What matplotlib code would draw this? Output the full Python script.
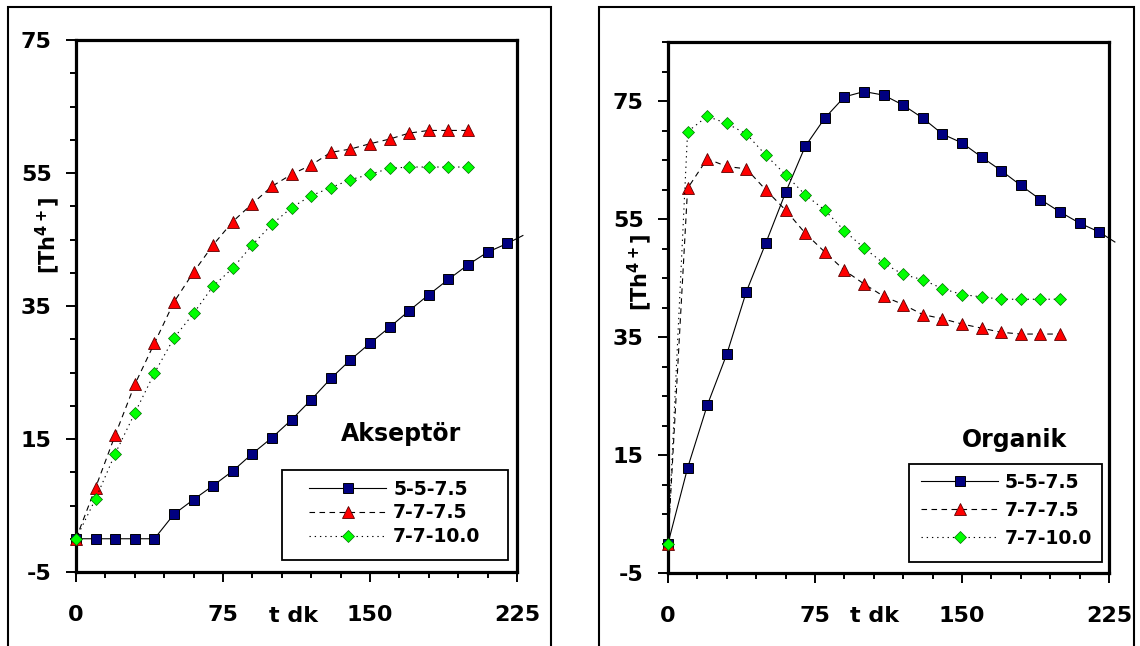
import matplotlib
matplotlib.use("Agg")
import matplotlib.pyplot as plt
from matplotlib.patches import Rectangle
from matplotlib.ticker import MultipleLocator, FixedLocator
from matplotlib.transforms import blended_transform_factory

plt.rcParams['font.family'] = ['DejaVu Sans']
plt.rcParams['font.weight'] = 'bold'
plt.rcParams['axes.unicode_minus'] = False

# ---------------- data ----------------
series_labels = ["5-5-7.5", "7-7-7.5", "7-7-10.0"]

t_blue = [0, 10, 20, 30, 40, 50, 60, 70, 80, 90, 100, 110, 120, 130, 140,
          150, 160, 170, 180, 190, 200, 210, 220, 228]
t_other = [0, 10, 20, 30, 40, 50, 60, 70, 80, 90, 100, 110, 120, 130, 140,
           150, 160, 170, 180, 190, 200]

akseptor_blue = [0, 0, 0, 0, 0, 3.7, 5.9, 8.0, 10.2, 12.8, 15.2, 17.9, 20.9, 24.1,
                 26.9, 29.4, 31.8, 34.3, 36.7, 39.0, 41.2, 43.1, 44.4, 45.6]
akseptor_red = [0, 7.7, 15.6, 23.2, 29.4, 35.6, 40.1, 44.2, 47.7, 50.4, 53.0,
                54.8, 56.2, 58.1, 58.6, 59.4, 60.1, 61.0, 61.4, 61.4, 61.4]
akseptor_green = [0, 6.0, 12.8, 18.9, 24.9, 30.2, 33.9, 38.0, 40.7, 44.2, 47.3,
                  49.8, 51.6, 52.8, 54.0, 54.8, 55.7, 55.9, 55.9, 55.9, 55.9]

organik_blue = [0, 12.8, 23.4, 32.1, 42.7, 51.0, 59.5, 67.3, 72.1, 75.7, 76.6,
                76.0, 74.3, 72.1, 69.4, 67.9, 65.5, 63.2, 60.7, 58.3, 56.2,
                54.3, 52.8, 51.1]
organik_red = [0, 60.2, 65.2, 63.9, 63.5, 59.9, 56.5, 52.6, 49.4, 46.3, 44.0,
               41.9, 40.5, 38.8, 38.1, 37.2, 36.5, 35.8, 35.5, 35.5, 35.5]
organik_green = [0, 69.8, 72.4, 71.2, 69.4, 65.8, 62.5, 59.1, 56.5, 53.0, 50.1,
                 47.5, 45.6, 44.7, 43.2, 42.2, 41.8, 41.4, 41.4, 41.4, 41.4]

x_major = [0, 75, 150, 225]
y_major = [-5, 15, 35, 55, 75]

W, H = 1140, 646
fig = plt.figure(figsize=(W / 100, H / 100), dpi=100)
fig.patch.set_facecolor("white")

# panel borders
for (x0, x1) in [(8, 551), (599, 1134)]:
    fig.add_artist(Rectangle((x0 / W, -0.05), (x1 - x0) / W, (H - 7) / H + 0.05,
                             transform=fig.transFigure, fill=False,
                             ec="black", lw=1.5))

axL = fig.add_axes([76 / W, 1 - 572 / H, 441 / W, 532 / H])
axR = fig.add_axes([668 / W, 1 - 573 / H, 441 / W, 531 / H])


def draw(ax, blue, red, green, ylim, title, title_xy, tdk_x, tdk_y,
         ylab_xy, leg_center, leg_box, labelspacing):
    n = len(blue)
    lb, = ax.plot(t_blue, blue, color="black", lw=0.8, ls="-",
                  marker="s", ms=7.3, mfc="#000080", mec="black", mew=0.7,
                  markevery=list(range(n - 1)), clip_on=False, zorder=3)
    lr, = ax.plot(t_other, red, color="black", lw=0.8, ls=(0, (5, 4)),
                  marker="^", ms=8.5, mfc="#FF0000", mec="#5a0000", mew=0.6,
                  clip_on=False, zorder=3)
    lg, = ax.plot(t_other, green, color="black", lw=0.8, ls=(0, (1.2, 3.5)),
                  marker="D", ms=6.3, mfc="#00FF00", mec="#007000", mew=0.5,
                  clip_on=False, zorder=3)

    ax.set_xlim(0, 225)
    ax.set_ylim(*ylim)
    ax.xaxis.set_major_locator(FixedLocator(x_major))
    ax.yaxis.set_major_locator(FixedLocator(y_major))
    ax.xaxis.set_minor_locator(MultipleLocator(15))
    ax.yaxis.set_minor_locator(MultipleLocator(5))
    ax.tick_params(which="major", length=7.5, width=1.4, direction="out",
                   labelsize=16, colors="black")
    ax.tick_params(which="minor", length=4.5, width=1.4, direction="out")
    ax.tick_params(axis="x", which="major", pad=16)
    ax.tick_params(axis="y", which="major", pad=10)
    for s in ax.spines.values():
        s.set_linewidth(2.3)
        s.set_color("black")

    trans = blended_transform_factory(ax.transData, ax.transAxes)
    ax.text(tdk_x, tdk_y, "t dk", transform=trans, ha="center", va="center",
            fontsize=16, fontweight="bold")
    ax.text(title_xy[0], title_xy[1], title, ha="center", va="baseline",
            fontsize=17, fontweight="bold")
    ax.text(ylab_xy[0], ylab_xy[1], r"[Th$^{\mathbf{4+}}$]", transform=ax.transAxes,
            rotation=90, ha="center", va="center", fontsize=15,
            fontweight="bold")

    ax.add_patch(Rectangle((leg_box[0], leg_box[1]), leg_box[2], leg_box[3],
                           transform=ax.transAxes, fc="white", ec="black",
                           lw=1.3, zorder=4, clip_on=False))
    leg = ax.legend([lb, lr, lg], series_labels, loc="center",
                    bbox_to_anchor=leg_center, frameon=False, fontsize=13.5,
                    handlelength=4.1, handletextpad=0.37,
                    labelspacing=labelspacing, borderpad=0, borderaxespad=0,
                    numpoints=1)
    leg.set_zorder(5)


draw(axL, akseptor_blue, akseptor_red, akseptor_green, (-5, 75), "Akseptör",
     (166, 14.7), 111, -0.083, (-0.0635, 0.6335), (0.7234, 0.111),
     (0.467, 0.0226, 0.5125, 0.169), 0.25)

draw(axR, organik_blue, organik_red, organik_green, (-5, 85), "Organik",
     (177, 16.4), 105.6, -0.081, (-0.0635, 0.567), (0.768, 0.1177),
     (0.5465, 0.0207, 0.4376, 0.1846), 0.48)

fig.savefig("out.png", dpi=100, facecolor="white")
